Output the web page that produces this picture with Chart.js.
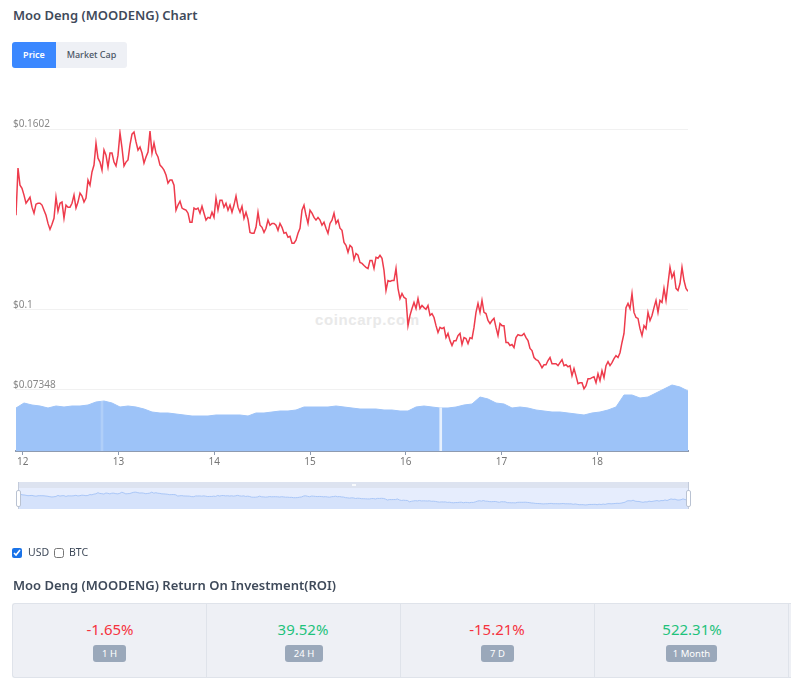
<!DOCTYPE html>
<html>
<head>
<meta charset="utf-8">
<title>Moo Deng (MOODENG) Chart</title>
<script src="https://cdn.jsdelivr.net/npm/chart.js@4/dist/chart.umd.min.js"></script>
<style>
    html, body { margin: 0; padding: 0; background: #fff; }
    body { width: 791px; height: 693px; position: relative; overflow: hidden; font-family: "Noto Sans", sans-serif; color: #3f4a5a; }
    .abs { position: absolute; }
    h2 { position: absolute; left: 13px; margin: 0; font-size: 13px; font-weight: 600; line-height: 18px; color: #3f4a5a; white-space: nowrap; }
    .tab { position: absolute; top: 42px; height: 26px; line-height: 26px; text-align: center; font-size: 9px; }
    #tab-price { left: 12px; width: 44px; background: #3b88ff; color: #fff; font-weight: 600; border-radius: 3px 0 0 3px; }
    #tab-cap { left: 56px; width: 71px; background: #eef0f5; color: #4a5565; font-weight: 500; border-radius: 0 3px 3px 0; }
    #watermark { left: 315px; top: 311px; font: bold 15px "Liberation Sans", sans-serif; letter-spacing: 0.6px; color: #e9e9e9; }
    #main-chart { position: absolute; left: 0; top: 110px; }
    #slider-band { left: 18px; top: 482px; width: 671px; height: 6px; background: #dde3f0; }
    #slider-body { left: 18px; top: 488px; width: 671px; height: 21px; background: #e6edfd; }
    #mini-chart { position: absolute; left: 18px; top: 488px; }
    .handle { position: absolute; top: 490px; width: 3px; height: 15px; background: #fff; border: 1px solid #b9c2d2; border-radius: 2px; }
    .handle-line { position: absolute; top: 482px; width: 1px; height: 27px; background: #c3cbdb; }
    #grip { left: 352px; top: 484px; width: 4px; height: 2px; background: #fff; opacity: 0.8; }
    .check { position: absolute; top: 548px; margin: 0; width: 10px; height: 10px; accent-color: #1a73e8; }
    .check-label { position: absolute; top: 545px; font-size: 10.5px; line-height: 14px; color: #3f4a5a; }
    #roi { left: 12px; top: 603px; width: 779px; height: 75px; background: #eef0f5; border: 1px solid #dfe3ea; border-right: 0; border-radius: 3px 0 0 3px; box-sizing: border-box; }
    .cell-line { position: absolute; top: 604px; width: 1px; height: 73px; background: #dfe3ea; }
    .pct { position: absolute; top: 620px; width: 120px; text-align: center; font-size: 15px; line-height: 18px; }
    .up { color: #1fc27c; }
    .down { color: #f5333f; }
    .badge { position: absolute; top: 645px; height: 17px; line-height: 17px; text-align: center; background: #9aa8ba; color: #fff; font-size: 9.5px; border-radius: 3px; }
</style>
</head>
<body>
    <h2 style="top: 6px;">Moo Deng (MOODENG) Chart</h2>
    <div class="tab" id="tab-price">Price</div>
    <div class="tab" id="tab-cap">Market Cap</div>

    <div class="abs" id="watermark">coincarp.com</div>
    <canvas id="main-chart" width="700" height="370"></canvas>

    <div class="abs" id="slider-band"></div>
    <div class="abs" id="slider-body"></div>
    <canvas id="mini-chart" width="671" height="21"></canvas>
    <div class="abs" id="grip"></div>
    <div class="handle-line" style="left: 18px;"></div>
    <div class="handle-line" style="left: 688px;"></div>
    <div class="handle" style="left: 16px;"></div>
    <div class="handle" style="left: 686px;"></div>

    <input class="check" type="checkbox" style="left: 12px;" checked>
    <span class="check-label" style="left: 28px;">USD</span>
    <input class="check" type="checkbox" style="left: 54px;">
    <span class="check-label" style="left: 69px;">BTC</span>

    <h2 style="top: 576px;">Moo Deng (MOODENG) Return On Investment(ROI)</h2>
    <div class="abs" id="roi"></div>
    <div class="cell-line" style="left: 206px;"></div>
    <div class="cell-line" style="left: 400px;"></div>
    <div class="cell-line" style="left: 594px;"></div>
    <div class="cell-line" style="left: 788px;"></div>

    <div class="pct down" style="left: 50px;">-1.65%</div>
    <div class="pct up" style="left: 243px;">39.52%</div>
    <div class="pct down" style="left: 437px;">-15.21%</div>
    <div class="pct up" style="left: 632px;">522.31%</div>
    <div class="badge" style="left: 93px; width: 33px;">1 H</div>
    <div class="badge" style="left: 285px; width: 38px;">24 H</div>
    <div class="badge" style="left: 481px; width: 33px;">7 D</div>
    <div class="badge" style="left: 666px; width: 51px;">1 Month</div>

<script>
// ===== DATA =====
// price in USD, one reading every half hour or so
const priceValues = [
    .1315, .1472, .1415, .1405, .1382, .1355, .1365, .1375, .1342, .1322, .1352, .1355, .1355, .1349, .1332, .1315,
    .1288, .1268, .1285, .1305, .1375, .1328, .1355, .1359, .1305, .1349, .1342, .1342, .1355, .1382, .1339, .1359,
    .1389, .1379, .1359, .1372, .1432, .1415, .1459, .1482, .1555, .1505, .1492, .1465, .1532, .1515, .1475, .1522,
    .1522, .1492, .1479, .1515, .1589, .1539, .1479, .1492, .1499, .1549, .1585, .1592, .1559, .1532, .1542, .1522,
    .1489, .1509, .1525, .1595, .1522,
    .1555, .1522, .1509, .1482, .1475, .1465, .1449, .1422, .1432, .1432, .1415, .1332, .1349, .1362, .1339, .1335,
    .1332, .1322, .1292, .1292, .1339, .1335, .1339, .1322, .1345, .1322, .1299, .1308, .1305, .1325, .1308, .1372,
    .1332, .1365, .1365, .1342, .1355, .1332, .1349, .1325, .1349, .1379, .1342, .1325, .1345, .1305, .1325, .1302,
    .1258, .1255, .1255, .1275, .1325, .1282, .1275, .1258, .1272, .1299, .1282, .1288, .1288, .1282, .1265, .1288,
    .1275, .1255, .1258, .1242,
    .1245, .1222, .1222, .1232, .1255, .1272, .1332, .1349, .1315, .1288, .1332, .1322, .1308, .1299, .1308, .1299,
    .1282, .1292, .1272, .1255, .1288, .1299, .1322, .1288, .1299, .1272, .1265, .1225, .1215, .1192, .1215, .1208,
    .1168, .1188, .1182, .1158, .1155, .1148, .1142, .1138, .1165, .1165, .1138, .1175, .1172, .1182, .1172, .1132,
    .1065, .1098, .1095, .1098, .1098, .1138, .1072, .1038, .1055, .1042, .1038, .0948, .0982, .1005, .1025, .1005,
    .1038, .1005, .1015,
    .1008, .1002, .1015, .0982, .0988, .0975, .0948, .0925, .0942, .0938, .0942, .0908, .0922, .0898, .0882, .0898,
    .0898, .0915, .0922, .0885, .0908, .0905, .0888, .0908, .0905, .0942, .0992, .1022, .0992, .1032, .0992, .0988,
    .0965, .0955, .0965, .0972, .0942, .0915, .0955, .0948, .0948, .0892, .0892, .0882, .0885, .0875, .0908, .0918,
    .0915, .0915, .0922, .0908, .0898, .0872,
    .0865, .0842, .0835, .0832, .0821, .0808, .0818, .0818, .0832, .0842, .0821, .0821, .0821, .0815, .0825, .0835,
    .0815, .0818, .0811, .0815, .0781, .0805, .0781, .0755, .0758, .0758, .0738, .0748, .0771, .0771, .0775, .0778,
    .0758, .0788, .0765, .0798, .0775, .0815, .0828, .0815, .0825, .0838, .0848, .0842, .0858, .0892, .0922, .1008,
    .1022, .1005, .1055, .0992, .0975, .0972, .0938, .0915, .0948, .0938, .0992, .0965, .0982, .1008, .1032, .0992,
    .1032, .1025, .1072, .1032, .1088, .1142, .1108, .1125, .1072, .1065, .1088, .1142, .1098, .1072, .1062
];

// lower panel, read as relative height (no scale printed on the chart)
const volumeValues = [
    43, 48, 46, 45, 43, 45, 44, 45, 45, 46, 49, 50, 48, 44, 45, 44, 42, 39, 38, 38, 37, 36, 35, 35, 35, 36, 36, 36, 36,
    35, 38, 38, 39, 40, 40, 41, 44, 44, 44, 44, 45, 44, 43, 42, 42, 42, 41, 41, 40, 40, 44, 45, 44, 43, 43, 44, 46, 47,
    54, 52, 48, 47, 43, 44, 43, 41, 40, 39, 39, 38, 37, 36, 38, 39, 41, 44, 56, 56, 53, 54, 58, 62, 66, 64, 60
];

// the two pale gaps in the lower panel
const gapTimes = [12.828, 16.365];
const gapValues = [50, 43];

const dayTicks = [12, 13, 14, 15, 16, 17, 18];
const priceTicks = [0.07348, 0.1, 0.1602];

const timeStart = 11.93;
const timeEnd = 18.947;

// ===== CHARTS =====
function toPoints(values) {
    const step = (timeEnd - timeStart) / (values.length - 1);
    return values.map((v, i) => ({ x: timeStart + i * step, y: v }));
}

function renderMainChart() {
    const ctx = document.getElementById('main-chart').getContext('2d');

    new Chart(ctx, {
        type: 'line',
        data: {
            datasets: [{
                data: toPoints(priceValues),
                yAxisID: 'y',
                borderColor: '#ee3b4c',
                borderWidth: 1.5,
                pointRadius: 0,
                tension: 0,
                order: 1
            }, {
                type: 'bar',
                data: gapTimes.map((t, i) => ({ x: t, y: gapValues[i] })),
                yAxisID: 'y1',
                backgroundColor: ['rgba(255, 255, 255, 0.2)', 'rgba(255, 255, 255, 0.75)'],
                barThickness: 2,
                order: 2
            }, {
                data: toPoints(volumeValues),
                yAxisID: 'y1',
                borderColor: '#9dc3f8',
                backgroundColor: '#9dc3f8',
                borderWidth: 1,
                pointRadius: 0,
                tension: 0,
                fill: 'origin',
                order: 3
            }]
        },
        options: {
            responsive: false,
            animation: false,
            layout: { padding: { top: 19, right: 12 } },
            plugins: { legend: { display: false }, tooltip: { enabled: false } },
            scales: {
                x: {
                    type: 'linear',
                    min: timeStart,
                    max: timeEnd,
                    offset: false,
                    afterBuildTicks: scale => { scale.ticks = dayTicks.map(v => ({ value: v })); },
                    afterFit: scale => { scale.height = 29; },
                    border: { color: '#8e9bb0', width: 2 },
                    grid: { offset: false, drawOnChartArea: false, drawTicks: true, tickLength: 4, color: '#8e9bb0' },
                    ticks: { color: '#777', font: { size: 10, family: 'Noto Sans' }, padding: 1, maxRotation: 0, autoSkip: false, callback: v => String(v) }
                },
                y: {
                    min: 0.0531,
                    max: 0.1602,
                    afterBuildTicks: scale => { scale.ticks = priceTicks.map(v => ({ value: v })); },
                    afterFit: scale => { scale.width = 16; },
                    border: { display: false },
                    grid: { color: '#f1f1f1', drawTicks: false },
                    ticks: { mirror: true, padding: -3, labelOffset: -5, color: '#888', font: { size: 10, family: 'Noto Sans' }, autoSkip: false, callback: v => '$' + v }
                },
                y1: {
                    display: false,
                    min: 0,
                    max: 322
                }
            }
        }
    });
}

function renderMiniChart() {
    const ctx = document.getElementById('mini-chart').getContext('2d');

    new Chart(ctx, {
        type: 'line',
        data: {
            datasets: [{
                data: toPoints(priceValues),
                borderColor: '#a9c6f7',
                backgroundColor: '#d5e2fb',
                borderWidth: 1,
                pointRadius: 0,
                tension: 0,
                fill: 'start'
            }]
        },
        options: {
            responsive: false,
            animation: false,
            plugins: { legend: { display: false }, tooltip: { enabled: false } },
            scales: {
                x: { type: 'linear', display: false, min: timeStart, max: timeEnd },
                y: { display: false, min: 0.0468, max: 0.1869 }
            }
        }
    });
}

renderMainChart();
renderMiniChart();
</script>
</body>
</html>
